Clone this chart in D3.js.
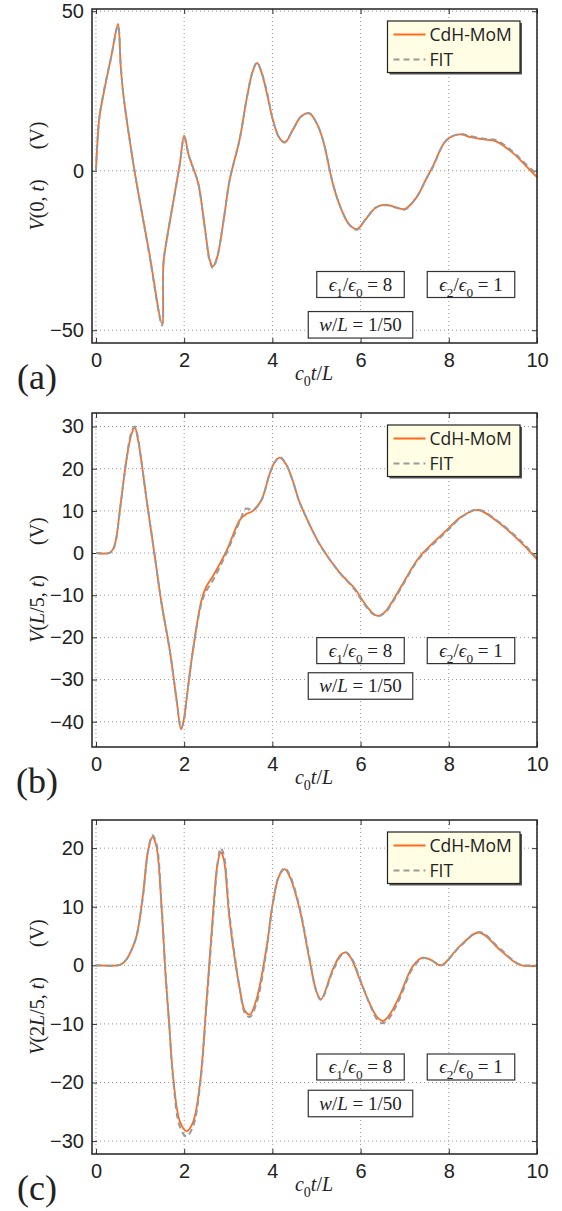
<!DOCTYPE html>
<html>
<head>
<meta charset="utf-8">
<script src="https://cdn.jsdelivr.net/npm/d3@7"></script>
<style>
  body { margin: 0; background: #fff; }
  svg { display: block; }
</style>
</head>
<body>
<div id="chart"></div>
<script>
// ---- data ----
var xTicks = [0, 2, 4, 6, 8, 10];

// panel (a): V(0,t)
var tA   = [0, 0.03, 0.08, 0.2, 0.35, 0.5, 0.56, 0.62, 0.85, 1.0, 1.2, 1.5, 1.53, 1.6, 1.75, 1.9, 2.0, 2.1, 2.2, 2.32, 2.47, 2.58, 2.65, 2.75, 2.9, 3.03, 3.26, 3.41, 3.55, 3.65, 3.75, 3.88, 4.01, 4.15, 4.28, 4.47, 4.65, 4.84, 5.0, 5.15, 5.37, 5.56, 5.75, 5.92, 6.1, 6.35, 6.58, 6.8, 7.0, 7.26, 7.49, 7.64, 7.94, 8.24, 8.5, 8.8, 9.07, 9.45, 9.75, 10];
var cdhA = [0, 8, 17, 26, 36, 46, 33, 24, 2, -10, -25, -48, -29, -22, -10, 2, 11, 5, 1, -4, -18, -28, -30, -27, -15, -3, 10, 22, 31, 33.8, 31, 24, 16, 10.5, 8.8, 13, 17, 18, 15, 9.5, -4, -12, -17, -18.3, -15.5, -11.5, -10.6, -11.5, -12, -8.5, -2.5, 1.4, 9.5, 11.4, 10.5, 9.8, 9.2, 5.6, 1.5, -2];
var fitA = [0, 8.5, 17, 26.5, 36, 45.5, 33.5, 24, 2, -10, -25.5, -48.5, -29, -22, -10, 2, 10.5, 5, 1, -4, -18, -28.5, -30.5, -27, -15, -3, 10, 22, 31, 34, 31, 24.5, 16, 10.5, 9, 13, 17, 18, 15, 9.5, -4, -12, -17, -18.5, -15.5, -11.5, -10.8, -11.5, -12.2, -8.5, -2.5, 1.2, 9.5, 11.5, 10.8, 10, 9.6, 6, 2, -1];
var yTicksA = [-50, 0, 50];

// panel (b): V(L/5,t)
var tB   = [0, 0.3, 0.38, 0.45, 0.54, 0.69, 0.8, 0.88, 0.95, 1.0, 1.15, 1.33, 1.48, 1.68, 1.83, 1.93, 2.0, 2.05, 2.2, 2.39, 2.5, 2.65, 2.96, 3.26, 3.4, 3.56, 3.75, 3.93, 4.05, 4.17, 4.3, 4.45, 4.6, 4.73, 5.07, 5.52, 5.86, 6.05, 6.25, 6.39, 6.55, 6.73, 7.0, 7.33, 7.94, 8.3, 8.66, 9.07, 9.6, 10];
var cdhB = [0, 0, 0.8, 3, 10, 22, 28, 29.8, 27, 24, 12.5, -0.5, -11.5, -23.5, -35, -41.8, -39, -35, -23, -11.3, -8, -5.5, 0.5, 7.8, 9.2, 10, 12.5, 18.5, 21.5, 22.6, 21.2, 17.5, 12.5, 9.3, 2.1, -4.6, -8.3, -11.3, -14, -14.9, -14, -11.3, -6.5, -1, 5.3, 8.7, 10.2, 7.7, 2.9, -1.5];
var fitB = [0, 0, 0.6, 2.8, 9.8, 22, 28.5, 30, 27.5, 24, 12.5, -0.5, -11.5, -23.5, -35, -41.5, -39.5, -35, -23, -12, -9, -6.5, 0, 7.5, 10.5, 10.3, 12.5, 18.5, 21.5, 22.7, 21.3, 17.5, 12.5, 9.3, 2.1, -4.6, -8.6, -11.6, -14.2, -15, -14.2, -11.6, -6.8, -1.3, 5, 8.6, 10.3, 7.9, 3.2, -1.2];
var yTicksB = [-40, -30, -20, -10, 0, 10, 20, 30];

// panel (c): V(2L/5,t)
var tC   = [0, 0.5, 0.6, 0.69, 0.8, 0.92, 1.07, 1.18, 1.28, 1.37, 1.49, 1.58, 1.66, 1.75, 1.9, 2.05, 2.2, 2.36, 2.51, 2.66, 2.76, 2.83, 2.9, 3.03, 3.26, 3.38, 3.49, 3.64, 3.86, 4.01, 4.15, 4.28, 4.4, 4.62, 4.84, 5.0, 5.1, 5.37, 5.55, 5.67, 5.8, 5.98, 6.2, 6.38, 6.51, 6.65, 6.88, 7.18, 7.41, 7.6, 7.83, 8.24, 8.69, 9.15, 9.6, 10];
var cdhC = [0, 0, 0.3, 1, 2.5, 5, 12.3, 19.5, 21.9, 20.3, 9.5, -2, -10, -19, -26.6, -28.3, -26.8, -20, -5.8, 9.5, 17.5, 19.3, 18, 7.8, -4, -7.8, -8.4, -5.8, 2.7, 10.6, 15.2, 16.4, 15, 9.5, 1, -4.5, -5.8, -0.7, 1.8, 2.2, 1, -2.4, -6.4, -8.9, -9.5, -8.5, -5.3, -0.2, 1.3, 0.9, 0, 3.2, 5.6, 2.7, 0.1, -0.1];
var fitC = [0, 0, 0.3, 1, 2.5, 5, 12, 19.5, 22.2, 20.8, 10, -1.5, -10, -19.5, -27.5, -29.2, -27.5, -20.5, -6.5, 8.5, 17.5, 20, 18.8, 8.5, -4, -8.2, -8.8, -6.5, 2.2, 10.5, 15.3, 16.6, 15.3, 9.8, 1.3, -4.5, -5.9, -1, 1.6, 2.2, 1.2, -2.2, -6.5, -9.3, -9.9, -9, -5.8, -0.5, 1.2, 0.9, 0, 3.1, 5.7, 2.9, 0.2, 0];
var yTicksC = [-30, -20, -10, 0, 10, 20];

var legendNames = ["CdH-MoM", "FIT"];

// ---- layout ----
var W = 562, H = 1211;
var left = 92, right = 537, plotH = 334;
var orange = "#ff6a1f", gray = "#9a9a9a";
var serif = "'Liberation Serif', 'DejaVu Serif', serif";
var sans = "'Liberation Sans', Arial, sans-serif";

var svg = d3.select("#chart").append("svg")
    .attr("width", W)
    .attr("height", H);

var panels = [
  { top: 9,   t: tA, cdh: cdhA, fit: fitA, yDom: [-54, 50.7], yTicks: yTicksA, tag: "(a)",
    ylab: [["V", 1], ["(0, ", 0], ["t", 1], [")", 0]], epsY: 58.5, wY: 18.2 },
  { top: 413, t: tB, cdh: cdhB, fit: fitB, yDom: [-46, 33.2], yTicks: yTicksB, tag: "(b)",
    ylab: [["V", 1], ["(", 0], ["L", 1], ["/5, ", 0], ["t", 1], [")", 0]], epsY: 96.4, wY: 61 },
  { top: 820, t: tC, cdh: cdhC, fit: fitC, yDom: [-32.2, 24.8], yTicks: yTicksC, tag: "(c)",
    ylab: [["V", 1], ["(2", 0], ["L", 1], ["/5, ", 0], ["t", 1], [")", 0]], epsY: 87, wY: 50.5 }
];

// writes math-like text into a <text>: parts = [string, italic?, sub?]
function mathText(txt, parts, size) {
  var shift = 0;
  parts.forEach(function (p) {
    var ts = txt.append("tspan").text(p[0]);
    if (p[1]) ts.style("font-style", "italic");
    var target = p[2] ? size * 0.32 : 0;
    if (target !== shift) { ts.attr("dy", target - shift); shift = target; }
    ts.style("font-size", (p[2] ? size * 0.7 : size) + "px");
  });
}

function mathBox(g, cx, cy, w, h, parts) {
  g.append("rect")
    .attr("x", cx - w / 2).attr("y", cy - h / 2)
    .attr("width", w).attr("height", h)
    .attr("fill", "#fff").attr("stroke", "#333").attr("stroke-width", 1.2);
  var t = g.append("text")
    .attr("x", cx).attr("y", cy + 6)
    .attr("text-anchor", "middle")
    .style("font-family", serif)
    .style("fill", "#222");
  mathText(t, parts, 19);
}

var x = d3.scaleLinear().domain([-0.09, 10]).range([left, right]);

panels.forEach(function (p) {
  var bottom = p.top + plotH;
  var y = d3.scaleLinear().domain(p.yDom).range([bottom, p.top]);
  var g = svg.append("g");

  // grid
  g.selectAll(".gx").data(xTicks).enter().append("line")
    .attr("x1", function (d) { return x(d); }).attr("x2", function (d) { return x(d); })
    .attr("y1", p.top).attr("y2", bottom)
    .attr("stroke", "#999").attr("stroke-width", 1).attr("stroke-dasharray", "1,3");
  g.selectAll(".gy").data(p.yTicks).enter().append("line")
    .attr("x1", left).attr("x2", right)
    .attr("y1", function (d) { return y(d); }).attr("y2", function (d) { return y(d); })
    .attr("stroke", "#999").attr("stroke-width", 1).attr("stroke-dasharray", "1,3");

  // inward tick marks on all sides
  var xB = d3.axisBottom(x).tickValues(xTicks).tickSizeInner(-5).tickSizeOuter(0).tickPadding(10)
      .tickFormat(d3.format("d"));
  var xT = d3.axisTop(x).tickValues(xTicks).tickSizeInner(-5).tickSizeOuter(0).tickFormat("");
  var yL = d3.axisLeft(y).tickValues(p.yTicks).tickSizeInner(-5).tickSizeOuter(0).tickPadding(8)
      .tickFormat(function (d) { return d < 0 ? "\u2212" + Math.abs(d) : d; });
  var yR = d3.axisRight(y).tickValues(p.yTicks).tickSizeInner(-5).tickSizeOuter(0).tickFormat("");

  [[xB, "translate(0," + bottom + ")"], [xT, "translate(0," + p.top + ")"],
   [yL, "translate(" + left + ",0)"], [yR, "translate(" + right + ",0)"]].forEach(function (a) {
    var ax = g.append("g").attr("transform", a[1]).call(a[0]);
    ax.select(".domain").remove();
    ax.selectAll("line").attr("stroke", "#333").attr("stroke-width", 1);
    ax.selectAll("text").style("font-family", sans).style("font-size", "20px").style("fill", "#222");
  });

  // curves
  var line = d3.line()
    .x(function (d) { return x(d[0]); })
    .y(function (d) { return y(d[1]); })
    .curve(d3.curveCatmullRom.alpha(0.5));
  g.append("path")
    .datum(p.t.map(function (t, i) { return [t, p.cdh[i]]; }))
    .attr("d", line).attr("fill", "none")
    .attr("stroke", orange).attr("stroke-width", 1.8);
  g.append("path")
    .datum(p.t.map(function (t, i) { return [t, p.fit[i]]; }))
    .attr("d", line).attr("fill", "none")
    .attr("stroke", gray).attr("stroke-width", 2).attr("stroke-dasharray", "6,4");

  // frame
  g.append("rect")
    .attr("x", left).attr("y", p.top).attr("width", right - left).attr("height", plotH)
    .attr("fill", "none").attr("stroke", "#222").attr("stroke-width", 1.5);

  // legend
  var lx = 387.5, ly = p.top + 12, lw = 132.5, lh = 51.5;
  g.append("rect").attr("x", lx + 2).attr("y", ly + 2).attr("width", lw).attr("height", lh)
    .attr("fill", "#555");
  g.append("rect").attr("x", lx).attr("y", ly).attr("width", lw).attr("height", lh)
    .attr("fill", "#fffde3").attr("stroke", "#222").attr("stroke-width", 1.2);
  legendNames.forEach(function (name, i) {
    var cy = ly + 13.5 + i * 25;
    g.append("line").attr("x1", lx + 6).attr("x2", lx + 38).attr("y1", cy).attr("y2", cy)
      .attr("stroke", i === 0 ? orange : gray).attr("stroke-width", i === 0 ? 1.8 : 2)
      .attr("stroke-dasharray", i === 0 ? null : "6,4");
    g.append("text").attr("x", lx + 42).attr("y", cy + 6)
      .style("font-family", "'Open Sans', sans-serif").style("font-size", "17.5px")
      .style("fill", "#222").text(name);
  });

  // parameter boxes
  mathBox(g, 360.5, bottom - p.epsY, 87.5, 26,
    [["\u03f5", 1], ["1", 0, 1], ["/", 0], ["\u03f5", 1], ["0", 0, 1], [" = 8", 0]]);
  mathBox(g, 471, bottom - p.epsY, 87.5, 26,
    [["\u03f5", 1], ["2", 0, 1], ["/", 0], ["\u03f5", 1], ["0", 0, 1], [" = 1", 0]]);
  mathBox(g, 360.5, bottom - p.wY, 104.5, 26.5,
    [["w", 1], ["/", 0], ["L", 1], [" = 1/50", 0]]);

  // axis labels
  var xl = svg.append("text").attr("x", 314).attr("y", bottom + 37)
    .attr("text-anchor", "middle").style("font-family", serif).style("fill", "#222");
  mathText(xl, [["c", 1], ["0", 0, 1], ["t", 1], ["/", 0], ["L", 1]], 20);

  var yl = svg.append("text")
    .attr("transform", "translate(44," + (p.top + plotH / 2) + ") rotate(-90)")
    .attr("text-anchor", "middle").style("font-family", serif).style("fill", "#222");
  mathText(yl, p.ylab.concat([["\u2003\u2002(V)", 0]]), 20);

  svg.append("text").attr("x", 37).attr("y", bottom + 46)
    .attr("text-anchor", "middle")
    .style("font-family", serif).style("font-size", "36px").style("fill", "#222")
    .text(p.tag);
});
</script>
</body>
</html>
